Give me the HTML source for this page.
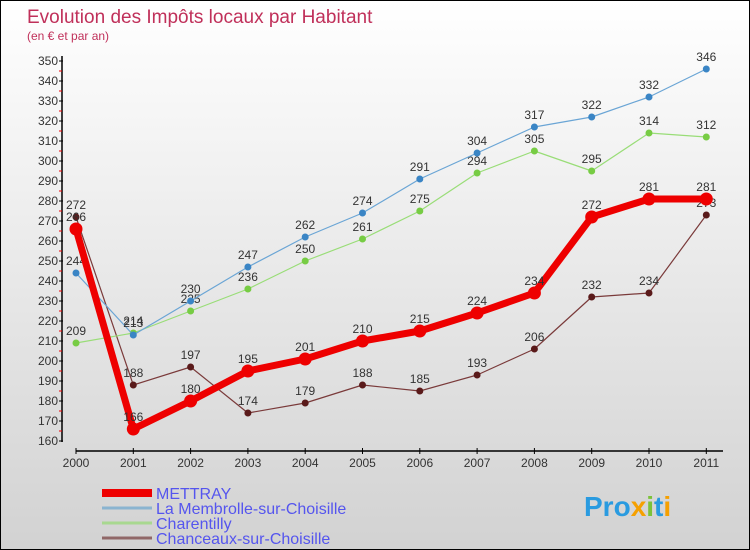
<!DOCTYPE html>
<html><head><meta charset="utf-8"><style>
body{margin:0}
#c{width:748px;height:548px;border:1px solid #000;background:linear-gradient(#fff,#d2d2d2);position:relative;overflow:hidden;font-family:"Liberation Sans",sans-serif}
</style></head><body>
<div id="c">
<svg id="s" width="748" height="548" style="position:absolute;left:0;top:0">
<text x="26" y="22" font-size="19" fill="#c0305a">Evolution des Impôts locaux par Habitant</text>
<text x="26" y="39" font-size="12" fill="#c0305a">(en € et par an)</text>
<g id="axes"></g><g id="series"></g>
<text x="583" y="515" font-size="28" font-weight="bold" fill="#2a9be0">Pro<tspan fill="#f5a000">x</tspan><tspan fill="#7cc23a">i</tspan>t<tspan fill="#f5a000">i</tspan></text>
</svg>
</div>
<script>
const years=[2000,2001,2002,2003,2004,2005,2006,2007,2008,2009,2010,2011];
const mettray=[266,166,180,195,201,210,215,224,234,272,281,281];
const membrolle=[244,213,230,247,262,274,291,304,317,322,332,346];
const charentilly=[209,214,225,236,250,261,275,294,305,295,314,312];
const chanceaux=[272,188,197,174,179,188,185,193,206,232,234,273];
const yTicks=[160,170,180,190,200,210,220,230,240,250,260,270,280,290,300,310,320,330,340,350];
const NS="http://www.w3.org/2000/svg";
const X=i=>75+i*57.3, Y=v=>440-(v-160)*2;
function mk(t,a,p){const e=document.createElementNS(NS,t);for(const k in a)e.setAttribute(k,a[k]);p.appendChild(e);return e;}
const ax=document.getElementById('axes'),sr=document.getElementById('series');
const yl=mk('line',{x1:61,y1:55,x2:61,y2:441,stroke:'#000','stroke-width':1.5},ax);


const xl=mk('line',{x1:75,y1:450,x2:722,y2:450,stroke:'#000','stroke-width':1.5},ax);


yTicks.forEach(v=>{
 mk('line',{x1:58,x2:62,y1:Y(v),y2:Y(v),stroke:'#000'},ax);
 if(v<350)mk('line',{x1:58,x2:61,y1:Y(v+5),y2:Y(v+5),stroke:'#e00'},ax);
 const t=mk('text',{x:57,y:Y(v)+4,'font-size':12,'text-anchor':'end',fill:'#333'},ax);t.textContent=v;
 
 
});
years.forEach((y,i)=>{
 mk('line',{x1:X(i),x2:X(i),y1:447,y2:453,stroke:'#000'},ax);
 const t=mk('text',{x:X(i),y:466,'font-size':12,'text-anchor':'middle',fill:'#333'},ax);t.textContent=y;
 
 
});
function series(d,col,w,r,dot,name){
 const g=mk('g',{},sr);
 
 
 mk('polyline',{points:d.map((v,i)=>X(i)+','+Y(v)).join(' '),fill:'none',stroke:col,'stroke-width':w,'stroke-linejoin':'round'},g);
 d.forEach((v,i)=>{
  const c=mk('circle',{cx:X(i),cy:Y(v),r:r,fill:dot},g);
  
  
  const t=mk('text',{x:X(i),y:Y(v)-8,'font-size':12,'text-anchor':'middle',fill:'#333'},g);t.textContent=v;
 });
}
series(chanceaux,'#7a3a3a',1.2,3.5,'#5a1a1a','series-chanceaux');
series(charentilly,'#99dd77',1.2,3.5,'#77cc44','series-charentilly');
series(membrolle,'#6aa5d5',1.2,3.5,'#3a85c5','series-membrolle');
series(mettray,'#ee0000',7,6.5,'#ee0000','series-mettray');
const leg=[['METTRAY','#ee0000',8],['La Membrolle-sur-Choisille','#8ab4d0',3],['Charentilly','#a8d890',3],['Chanceaux-sur-Choisille','#906868',3]];
leg.forEach((l,i)=>{
 const g=mk('g',{},sr);
 
 
 const y=492+i*15;
 mk('line',{x1:101,x2:151,y1:y,y2:y,stroke:l[1],'stroke-width':l[2]},g);
 const t=mk('text',{x:155,y:y+6,'font-size':16,fill:'#5555ee'},g);t.textContent=l[0];
});
</script>
</body></html>
